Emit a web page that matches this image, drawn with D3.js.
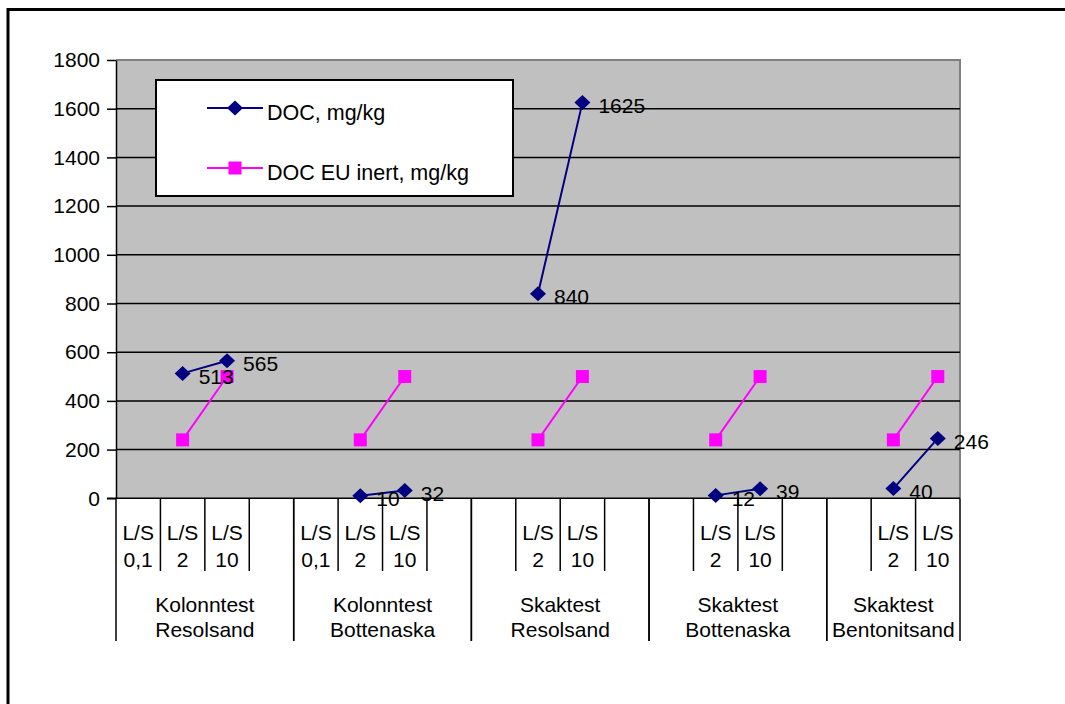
<!DOCTYPE html>
<html>
<head>
<meta charset="utf-8">
<script src="https://cdn.jsdelivr.net/npm/d3@7/dist/d3.min.js"></script>
<style>
  html, body { margin: 0; padding: 0; background: #fff; }
  svg { display: block; }
  text { font-family: Arial, "Liberation Sans", sans-serif; fill: #000; }
</style>
</head>
<body>
<svg id="chart" width="1065" height="704"></svg>
<script>
// Two-level category axis: test groups, each with its L/S columns
const groupNames = [
  ["Kolonntest", "Resolsand"],
  ["Kolonntest", "Bottenaska"],
  ["Skaktest", "Resolsand"],
  ["Skaktest", "Bottenaska"],
  ["Skaktest", "Bentonitsand"]
];
const subLabels = [
  ["L/S 0,1", "L/S 2", "L/S 10", ""],
  ["L/S 0,1", "L/S 2", "L/S 10", ""],
  ["", "L/S 2", "L/S 10", ""],
  ["", "L/S 2", "L/S 10", ""],
  ["", "L/S 2", "L/S 10"]
];
// Measured DOC, mg/kg (null = no measurement)
const docValues = [
  [null, 513, 565, null],
  [null, 10, 32, null],
  [null, 840, 1625, null],
  [null, 12, 39, null],
  [null, 40, 246]
];
// EU inert landfill limit for DOC, mg/kg
const euInertValues = [
  [null, 240, 500, null],
  [null, 240, 500, null],
  [null, 240, 500, null],
  [null, 240, 500, null],
  [null, 240, 500]
];
const yTicks = [0, 200, 400, 600, 800, 1000, 1200, 1400, 1600, 1800];
const seriesNames = ["DOC, mg/kg", "DOC EU inert, mg/kg"];

const svg = d3.select("#chart");
const plot = { left: 116, right: 960, top: 60, bottom: 498.3 };
const FONT = 21;

// Flatten categories into one column list
const columns = [];
groupNames.forEach((g, gi) => {
  subLabels[gi].forEach((s, si) => {
    columns.push({ key: gi + "-" + si, gi, si, label: s,
                   doc: docValues[gi][si], eu: euInertValues[gi][si] });
  });
});

const x = d3.scaleBand().domain(columns.map(c => c.key))
  .range([plot.left, plot.right]).padding(0);
const y = d3.scaleLinear().domain([0, 1800]).range([plot.bottom, plot.top]);
const cx = k => x(k) + x.bandwidth() / 2;

// Outer frame (top and left edges visible)
svg.append("rect").attr("x", 8).attr("y", 9.5).attr("width", 1100).attr("height", 760)
  .attr("fill", "none").attr("stroke", "#000").attr("stroke-width", 3);

// Plot area
svg.append("rect").attr("x", plot.left).attr("y", plot.top)
  .attr("width", plot.right - plot.left).attr("height", plot.bottom - plot.top)
  .attr("fill", "#c0c0c0");
svg.append("path")
  .attr("d", `M${plot.left},${plot.top}H${plot.right}V${plot.bottom}`)
  .attr("fill", "none").attr("stroke", "#808080").attr("stroke-width", 2);

// Gridlines
svg.append("g").selectAll("line")
  .data(yTicks.filter(t => t > 0 && t < 1800)).join("line")
  .attr("x1", plot.left).attr("x2", plot.right)
  .attr("y1", d => y(d)).attr("y2", d => y(d))
  .attr("stroke", "#000").attr("stroke-width", 1.5);

// Y axis
const yAxis = svg.append("g").attr("transform", `translate(${plot.left},0)`)
  .call(d3.axisLeft(y).tickValues(yTicks).tickFormat(d3.format("d"))
    .tickSize(9).tickPadding(7).tickSizeOuter(0));
yAxis.select(".domain").attr("stroke", "#000").attr("stroke-width", 1.5);
yAxis.selectAll(".tick line").attr("stroke", "#000").attr("stroke-width", 1.5);
yAxis.selectAll(".tick text").attr("font-size", FONT)
  .attr("font-family", "Arial, 'Liberation Sans', sans-serif").attr("fill", "#000");

// X axis baseline
svg.append("line").attr("x1", plot.left - 9).attr("x2", plot.right)
  .attr("y1", plot.bottom).attr("y2", plot.bottom)
  .attr("stroke", "#000").attr("stroke-width", 1.5);

// Category separators: short ones between columns, long ones between groups
const xg = svg.append("g");
groupNames.forEach((g, gi) => {
  const cols = columns.filter(c => c.gi === gi);
  const gx0 = x(cols[0].key);
  const gx1 = x(cols[cols.length - 1].key) + x.bandwidth();
  cols.slice(1).forEach(c => {
    xg.append("line").attr("x1", x(c.key)).attr("x2", x(c.key))
      .attr("y1", plot.bottom).attr("y2", 571)
      .attr("stroke", "#000").attr("stroke-width", 1.5);
  });
  [gx0, gx1].forEach(gx => {
    xg.append("line").attr("x1", gx).attr("x2", gx)
      .attr("y1", plot.bottom).attr("y2", 641)
      .attr("stroke", "#000").attr("stroke-width", 1.5);
  });
  const gc = (gx0 + gx1) / 2;
  g.forEach((line, li) => {
    xg.append("text").attr("x", gc).attr("y", 612 + li * 25)
      .attr("text-anchor", "middle").attr("font-size", FONT).text(line);
  });
});
columns.filter(c => c.label).forEach(c => {
  const parts = c.label.split(" ");
  parts.forEach((p, li) => {
    xg.append("text").attr("x", cx(c.key)).attr("y", 540 + li * 27)
      .attr("text-anchor", "middle").attr("font-size", FONT).text(p);
  });
});

// Series
const diamond = "M0,-7.5L8,0L0,7.5L-8,0Z";
const square = "M-6.5,-6.5H6.5V6.5H-6.5Z";
const series = [
  { name: seriesNames[0], acc: c => c.doc, color: "#000080", marker: diamond, labels: true },
  { name: seriesNames[1], acc: c => c.eu, color: "#ff00ff", marker: square, labels: false }
];

// Draw the EU limit first so DOC sits on top
[series[1], series[0]].forEach(s => {
  const line = d3.line().defined(c => s.acc(c) != null)
    .x(c => cx(c.key)).y(c => y(s.acc(c)));
  svg.append("path").datum(columns).attr("d", line)
    .attr("fill", "none").attr("stroke", s.color).attr("stroke-width", 2);
  const pts = columns.filter(c => s.acc(c) != null);
  svg.append("g").selectAll("path").data(pts).join("path")
    .attr("d", s.marker)
    .attr("transform", c => `translate(${cx(c.key)},${y(s.acc(c))})`)
    .attr("fill", s.color);
  if (s.labels) {
    svg.append("g").selectAll("text").data(pts).join("text")
      .attr("x", c => cx(c.key) + 16)
      .attr("y", c => y(s.acc(c)) + 3)
      .attr("dy", "0.35em")
      .attr("font-size", FONT)
      .text(c => s.acc(c));
  }
});

// Legend
const lg = svg.append("g");
lg.append("rect").attr("x", 156).attr("y", 80).attr("width", 357).attr("height", 116)
  .attr("fill", "#fff").attr("stroke", "#000").attr("stroke-width", 2);
series.forEach((s, i) => {
  const ly = 108 + i * 60;
  lg.append("line").attr("x1", 207).attr("x2", 263).attr("y1", ly).attr("y2", ly)
    .attr("stroke", s.color).attr("stroke-width", 2);
  lg.append("path").attr("d", s.marker).attr("transform", `translate(235,${ly})`)
    .attr("fill", s.color);
  lg.append("text").attr("x", 267).attr("y", ly + 11.5).attr("font-size", 21.5).text(s.name);
});
</script>
</body>
</html>
